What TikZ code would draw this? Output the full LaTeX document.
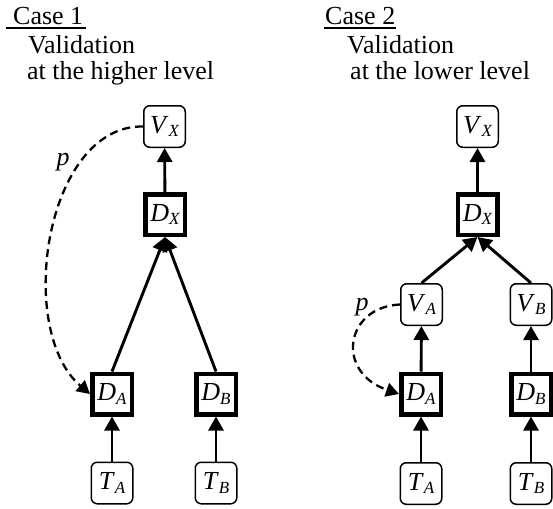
\documentclass[tikz,border=0pt]{standalone}
\usepackage{fontspec}
\setmainfont{Liberation Serif}
\usetikzlibrary{arrows.meta}
\newcommand\vsub[2]{\textit{#1}\raisebox{-0.14em}{\fontsize{17}{17}\selectfont\itshape #2}}
\begin{document}
\begin{tikzpicture}[x=1pt,y=-1pt,
  font=\fontsize{26}{30}\selectfont,
  rbox/.style={draw, line width=1.5pt, rounded corners=6pt, minimum width=41.5pt, minimum height=41.5pt, inner sep=0pt},
  dbox/.style={draw, line width=4.5pt, minimum width=39.5pt, minimum height=40.5pt, inner sep=0pt},
  arr/.style={line width=2.9pt, -{Triangle[length=14pt,width=15pt]}},
  darr/.style={line width=2.3pt, dash pattern=on 8pt off 5pt, -{Triangle[length=13pt,width=14pt]}},
  txt/.style={anchor=base west, inner sep=0pt},
  uline/.style={line width=1.6pt}]
\useasboundingbox (0,0) rectangle (553,508);
% ---------- Case 1 ----------
\node[txt] (c1) at (13,25) {Case 1};
\node[txt] (c1a) at (28,54) {Validation};
\node[txt] (c1b) at (27,80) {at the higher level};
\draw[uline] ([xshift=-7pt,yshift=-3pt]c1.base west) -- ([xshift=3pt,yshift=-3pt]c1.base east);
\node[rbox] (VX1) at (164.5,126.5) {\vsub{V}{X}};
\node[dbox] (DX1) at (165,214.5) {\vsub{D}{X}};
\node[dbox] (DA1) at (112,394) {\vsub{D}{A}};
\node[dbox] (DB1) at (216,394) {\vsub{D}{B}};
\node[rbox] (TA1) at (112,483) {\vsub{T}{A}};
\node[rbox] (TB1) at (216,483) {\vsub{T}{B}};
\node[anchor=base, inner sep=0pt] (p1) at (63,165) {\textit{p}};
\draw[arr] (DX1) -- (VX1);
\draw[arr] (DA1.north) -- (DX1.south);
\draw[arr] (DB1.north) -- (DX1.south);
\draw[arr] (TA1) -- (DA1);
\draw[arr] (TB1) -- (DB1);
\draw[darr] (VX1.west) .. controls (45,125) and (15,330) .. (DA1.west);
% ---------- Case 2 ----------
\node[txt] (c2) at (325,25) {Case 2};
\node[txt] (c2a) at (347,54) {Validation};
\node[txt] (c2b) at (350,80) {at the lower level};
\draw[uline] ([xshift=-1pt,yshift=-3pt]c2.base west) -- ([xshift=1pt,yshift=-3pt]c2.base east);
\node[rbox] (VX2) at (477.5,126.5) {\vsub{V}{X}};
\node[dbox] (DX2) at (477.5,214.5) {\vsub{D}{X}};
\node[rbox] (VA2) at (421.5,304.5) {\vsub{V}{A}};
\node[rbox] (VB2) at (531,304.5) {\vsub{V}{B}};
\node[dbox] (DA2) at (421,394) {\vsub{D}{A}};
\node[dbox] (DB2) at (531,394) {\vsub{D}{B}};
\node[rbox] (TA2) at (421,483.5) {\vsub{T}{A}};
\node[rbox] (TB2) at (531,483.5) {\vsub{T}{B}};
\node[anchor=base, inner sep=0pt] (p2) at (362,310) {\textit{p}};
\draw[arr] (DX2) -- (VX2);
\draw[arr] (VA2.north) -- (DX2.south);
\draw[arr] (VB2.north) -- (DX2.south);
\draw[arr] (DA2) -- (VA2);
\draw[arr] (DB2) -- (VB2);
\draw[arr] (TA2) -- (DA2);
\draw[arr] (TB2) -- (DB2);
\draw[darr] (VA2.west) .. controls (345,307) and (335,372) .. (DA2.west);
\end{tikzpicture}
\end{document}
